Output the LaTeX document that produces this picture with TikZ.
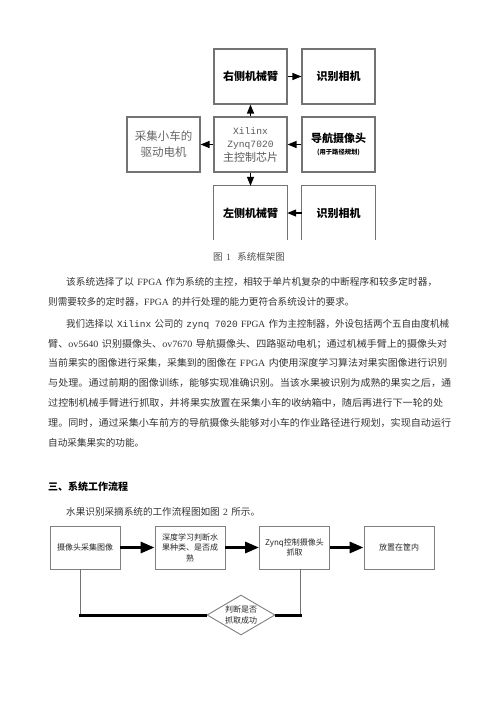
\documentclass[tikz,border=0pt]{standalone}
\usepackage{fontspec}
\usepackage{graphicx}
\setmainfont{Noto Sans CJK SC}
\newfontfamily\lat{Liberation Serif}
\newfontfamily\mono{Liberation Mono}
\usetikzlibrary{arrows.meta,shapes.geometric}
\newcommand\gapsp{\hspace{0.35em}}
\tikzset{
  topbox/.style={draw=black!55, line width=1.1pt, minimum width=73pt, minimum height=55pt,
    inner sep=0pt, align=center, font=\fontsize{11}{13.5}\selectfont},
  openbox/.style={minimum width=73pt, minimum height=54pt, inner sep=0pt, align=center,
    font=\fontsize{11}{13.5}\selectfont\bfseries},
  boldtxt/.style={font=\fontsize{11}{13.5}\selectfont\bfseries},
  toparr/.style={-{Triangle[length=9pt,width=7pt]}, line width=1.3pt, black},
  body/.style={anchor=west, inner sep=0pt, text=black!80, font=\fontsize{9.6}{12}\selectfont},
  flowbox/.style={draw=black!50, line width=0.9pt, minimum width=70pt, minimum height=43pt,
    inner sep=1pt, align=center, font=\fontsize{8}{10.5}\selectfont, text=black!85},
  flowarr/.style={-{Triangle[length=14pt,width=11pt]}, line width=3pt, black},
  decide/.style={shape=diamond, draw=black!50, line width=0.9pt, aspect=1.7, inner sep=0pt,
    minimum width=68pt, minimum height=40pt, align=center, font=\fontsize{8}{11}\selectfont, text=black!85},
  thin/.style={draw=black!55, line width=0.9pt},
  thick/.style={draw=black, line width=3pt}
}
\newcommand\jl[5]{\node[body] (#1) at (#2,#3) {\resizebox{#4pt}{\height}{#5}};}
\begin{document}
\begin{tikzpicture}[x=1pt,y=-1pt]
\useasboundingbox[fill=white] (0,0) rectangle (500,707);

% ---------- Figure 1 ----------
\node[topbox, boldtxt] (r1) at (250.5,76.5) {右侧机械臂};
\node[topbox, boldtxt] (r2) at (338.5,76.5) {识别相机};
\node[topbox, text=black!60, font=\fontsize{11.5}{16}\selectfont] (lm) at (163.5,144.5) {采集小车的\\驱动电机};
\node[topbox, text=black!65] (cc) at (250.5,144.5) {{\mono\fontsize{9.6}{13.3}\selectfont Xilinx}\\{\mono\fontsize{9.6}{13.3}\selectfont Zynq7020}\\主控制芯片};
\node[topbox, boldtxt] (nav) at (338.5,144.5) {导航摄像头\\[-1pt]{\fontsize{6.3}{8}\selectfont (用于路径规划)}};
\node[openbox] (lb) at (250.5,213) {左侧机械臂};
\node[openbox] (rb) at (338.5,213) {识别相机};
\draw[draw=black!55, line width=1.1pt] (lb.south west) -- (lb.north west) -- (lb.north east) -- (lb.south east);
\draw[draw=black!55, line width=1.1pt] (rb.south west) -- (rb.north west) -- (rb.north east) -- (rb.south east);

\draw[toparr] (r1.east) -- (r2.west);
\draw[toparr] (cc.north) -- (r1.south);
\draw[toparr] (cc.west) -- (lm.east);
\draw[toparr] (nav.west) -- (cc.east);
\draw[toparr] (cc.south) -- (lb.north);
\draw[toparr] (rb.west) -- (lb.east);

\node[body, text=black!70, font=\fontsize{9.5}{12}\selectfont] (cap1) at (213,257) {图\gapsp{\lat 1}\gapsp\gapsp 系统框架图};

% ---------- body text ----------
\jl{p1a}{66}{282}{371}{该系统选择了以\gapsp{\lat FPGA}\gapsp 作为系统的主控，相较于单片机复杂的中断程序和较多定时器，}
\node[body] (p1b) at (48,302) {则需要较多的定时器，{\lat FPGA}\gapsp 的并行处理的能力更符合系统设计的要求。};

\jl{p2a}{66}{324}{383}{我们选择以\gapsp{\mono Xilinx}\gapsp 公司的\gapsp{\mono zynq 7020}\gapsp{\lat FPGA}\gapsp 作为主控制器，外设包括两个五自由度机械}
\jl{p2b}{48}{344}{399}{臂、{\lat ov5640}\gapsp 识别摄像头、{\lat ov7670}\gapsp 导航摄像头、四路驱动电机；通过机械手臂上的摄像头对}
\jl{p2c}{48}{363}{399}{当前果实的图像进行采集，采集到的图像在\gapsp{\lat FPGA}\gapsp 内使用深度学习算法对果实图像进行识别}
\jl{p2d}{48}{383}{403}{与处理。通过前期的图像训练，能够实现准确识别。当该水果被识别为成熟的果实之后，通}
\jl{p2e}{48}{403}{395}{过控制机械手臂进行抓取，并将果实放置在采集小车的收纳箱中，随后再进行下一轮的处}
\jl{p2f}{48}{423}{403}{理。同时，通过采集小车前方的导航摄像头能够对小车的作业路径进行规划，实现自动运行}
\node[body] (p2g) at (48,443) {自动采集果实的功能。};

\node[body, text=black, font=\fontsize{10}{12}\selectfont\bfseries] (sec) at (48,487) {三、系统工作流程};
\node[body] (intro) at (66,512) {水果识别采摘系统的工作流程图如图\gapsp{\lat 2}\gapsp 所示。};

% ---------- Figure 2 ----------
\node[flowbox] (b1) at (85,547.5) {摄像头采集图像};
\node[flowbox] (b2) at (190,547.5) {深度学习判断水\\果种类、是否成\\熟};
\node[flowbox] (b3) at (294.5,547.5) {Zynq控制摄像头\\抓取};
\node[flowbox] (b4) at (399,547.5) {放置在筐内};
\node[decide] (d) at (241,615) {判断是否\\抓取成功};

\draw[flowarr] (b1.east) -- (b2.west);
\draw[flowarr] (b2.east) -- (b3.west);
\draw[flowarr] (b3.east) -- (b4.west);

\coordinate (c1) at (80.5,615);
\coordinate (c3) at (300.5,615);
\draw[thin] (b1.south -| c1) -- (c1);
\draw[thin] (b3.south -| c3) -- (c3);
\draw[thick] ([xshift=-1.5pt]c1) -- (d.west);
\draw[thick] (d.east) -- ([xshift=1.5pt]c3);
\end{tikzpicture}
\end{document}
